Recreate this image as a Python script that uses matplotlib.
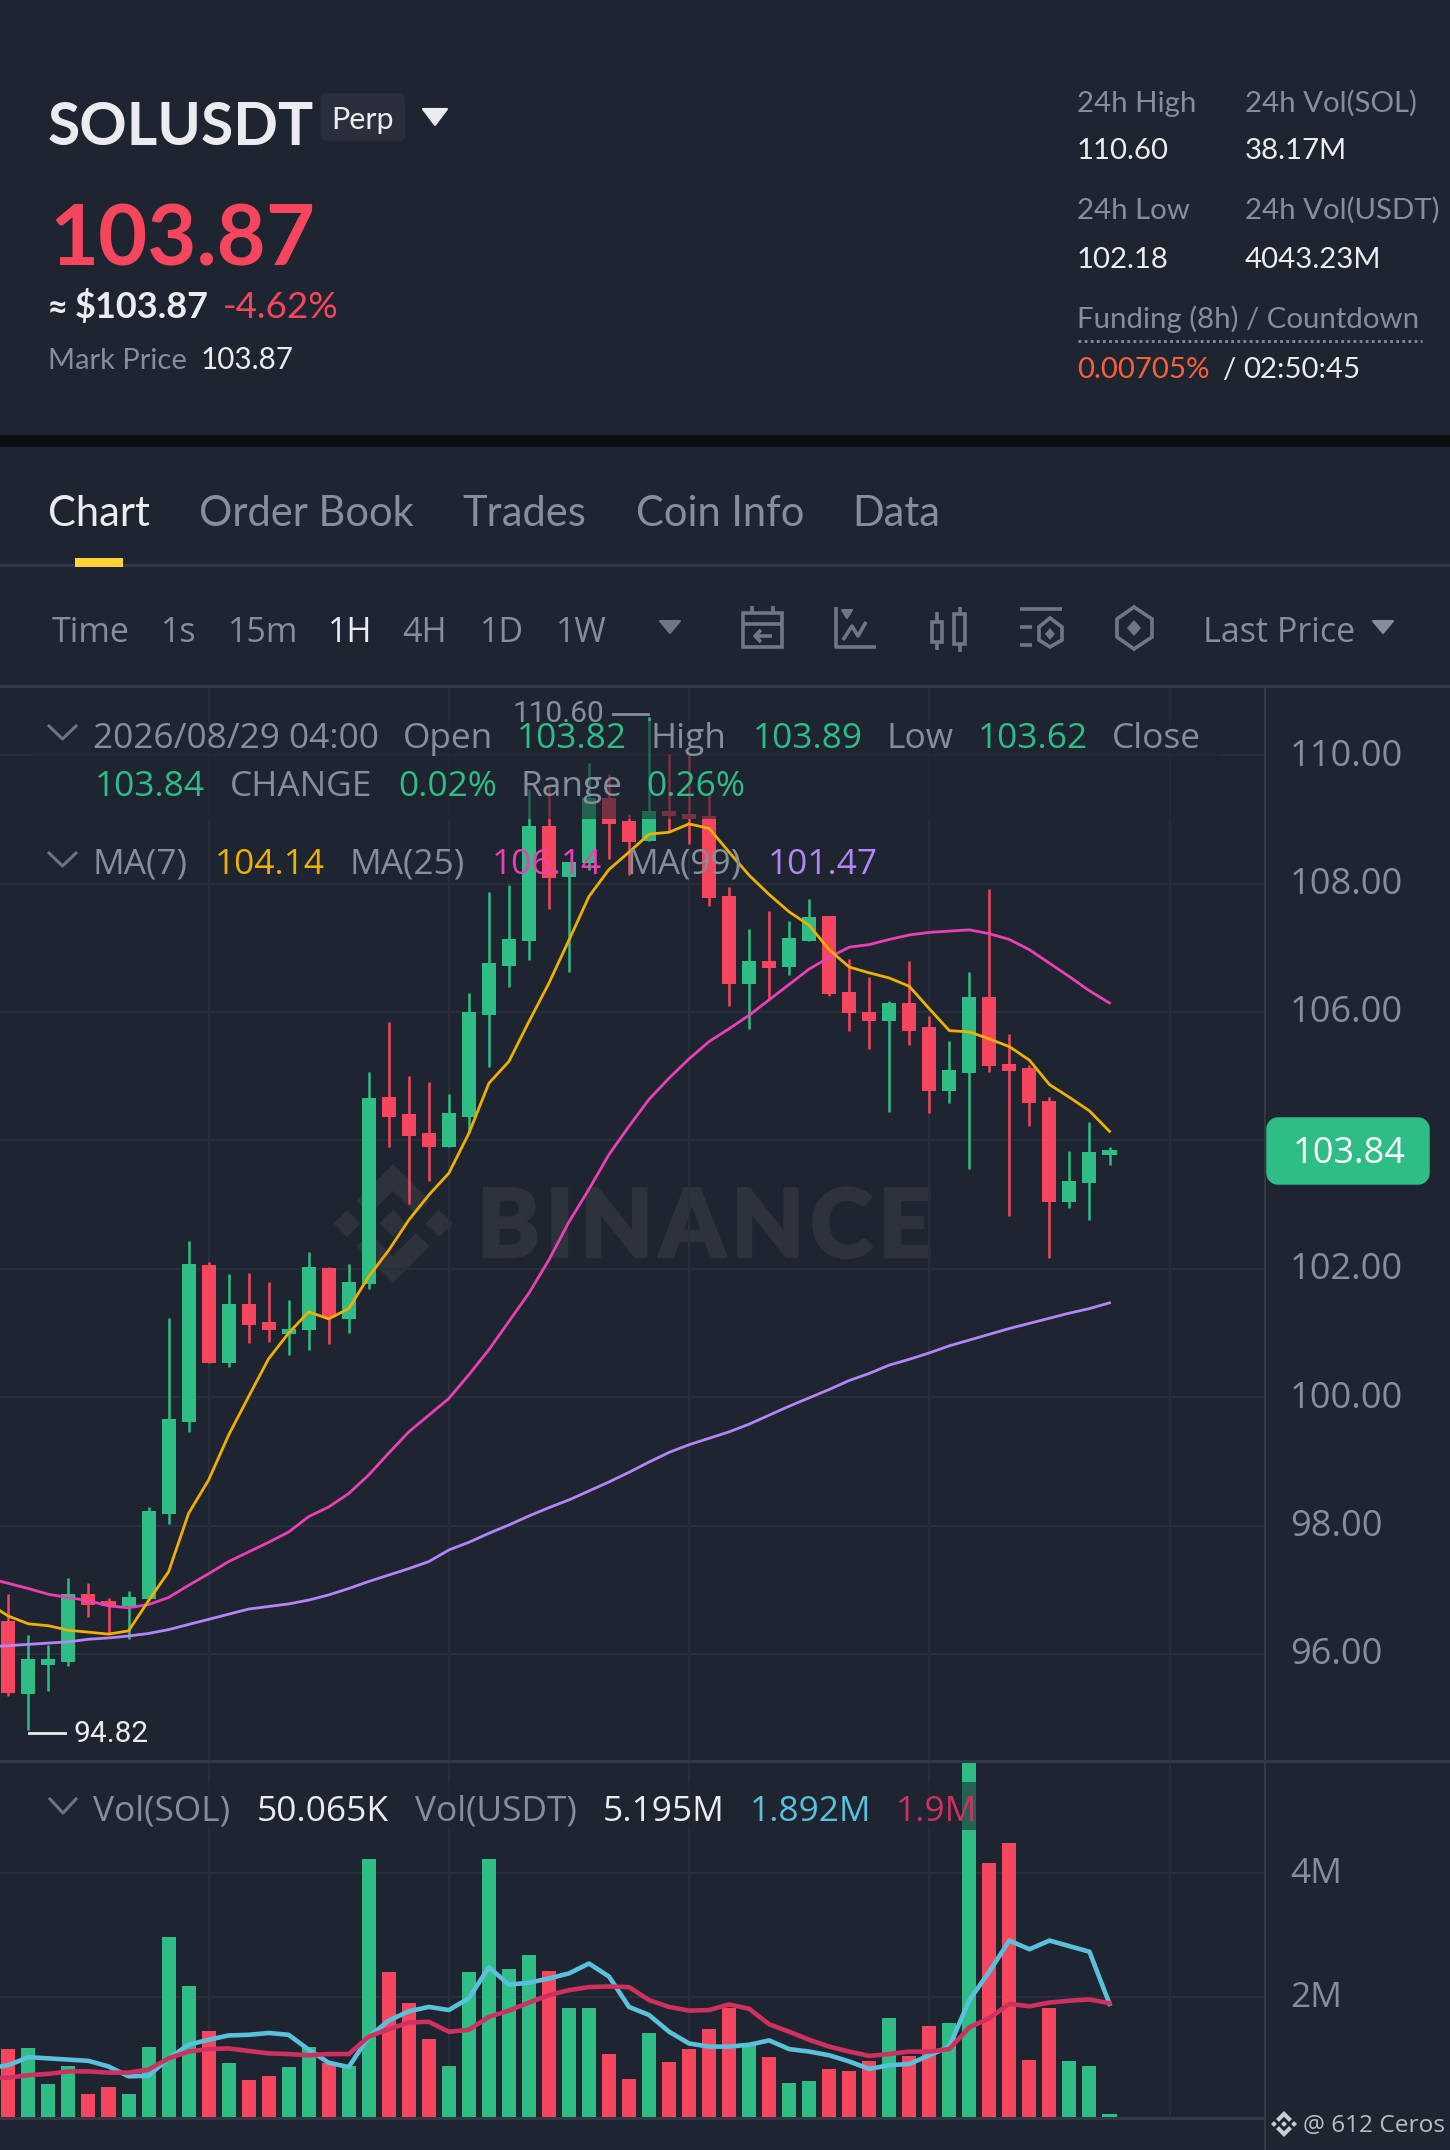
import numpy as np
import matplotlib
matplotlib.use("Agg")
import matplotlib.pyplot as plt
import matplotlib.patheffects as pe
from matplotlib.patches import Rectangle, FancyBboxPatch, Polygon
from matplotlib.ticker import FuncFormatter
from matplotlib.transforms import Affine2D

# ---------- data ----------
opens = [96.51,95.38,95.83,95.88,96.94,96.82,96.74,96.85,98.18,99.62,102.06,100.54,101.45,101.17,100.99,101.04,102.02,101.22,101.76,104.67,
         104.41,104.11,103.89,104.37,105.96,106.71,107.11,108.89,108.10,108.32,109.34,108.98,108.66,109.13,109.09,109.06,107.81,106.44,106.80,106.70,
         107.11,107.49,106.31,106.00,105.86,106.14,105.76,104.77,105.05,106.24,105.19,105.12,104.62,103.04,103.33,103.77]
highs = [96.93,96.30,96.14,97.19,97.11,96.88,96.98,98.29,101.24,102.43,102.11,101.92,101.94,101.80,101.51,102.26,102.03,102.07,105.07,105.84,
         105.01,104.91,104.72,106.29,107.87,107.98,109.48,109.50,108.34,109.88,109.71,109.08,110.60,110.02,110.03,109.38,107.94,107.29,107.57,107.42,
         107.76,107.49,106.83,106.55,106.17,106.79,105.93,105.55,106.63,107.92,105.65,105.18,104.67,103.84,104.28,103.89]
lows = [95.34,94.82,95.43,95.82,96.58,96.32,96.24,96.84,98.02,99.46,100.54,100.47,100.85,100.86,100.66,100.74,100.83,101.00,101.69,103.90,
        103.01,103.36,103.89,104.11,105.15,106.39,106.81,107.60,106.62,108.21,108.38,108.14,108.66,108.81,108.62,107.65,106.09,105.74,106.19,106.57,
        107.10,106.25,105.70,105.43,104.44,105.49,104.43,104.58,103.56,105.07,102.82,104.22,102.17,102.95,102.76,103.62]
closes = [95.39,95.92,95.92,96.94,96.77,96.74,96.89,98.22,99.66,102.07,100.54,101.45,101.12,101.04,101.07,102.03,101.25,101.79,104.66,104.37,
          104.07,103.89,104.42,106.00,106.76,107.14,108.89,108.08,108.34,109.34,108.93,108.65,109.13,109.05,109.01,107.77,106.44,106.80,106.69,107.16,
          107.48,106.28,105.98,105.86,106.14,105.71,104.77,105.10,106.23,105.16,105.08,104.58,103.04,103.37,103.82,103.85]
volumes = [1.16,1.17,0.60,0.89,0.44,0.55,0.43,1.19,2.97,2.18,1.45,0.94,0.66,0.72,0.87,1.19,0.93,0.88,4.22,2.40,
           1.91,1.33,0.88,2.41,4.23,2.45,2.68,2.42,1.82,1.82,1.08,0.67,1.42,0.95,1.16,1.48,1.82,1.24,1.04,0.62,
           0.65,0.84,0.80,0.96,1.66,1.05,1.54,1.58,5.83,4.16,4.49,0.98,1.82,0.97,0.88,0.12]
# moving averages start one candle off the left edge
ma7 = [96.79,96.59,96.47,96.44,96.37,96.34,96.31,96.36,96.83,97.28,98.19,98.71,99.41,100.01,100.60,101.00,101.33,101.22,101.38,101.88,
       102.29,102.76,103.15,103.49,104.11,104.89,105.23,105.85,106.45,107.12,107.80,108.22,108.49,108.77,108.80,108.93,108.86,108.49,108.13,107.83,
       107.56,107.35,106.97,106.70,106.61,106.53,106.40,106.05,105.71,105.69,105.58,105.46,105.25,104.87,104.67,104.46,104.14]
ma25 = [97.18,97.10,97.02,96.93,96.88,96.83,96.75,96.72,96.77,96.88,97.07,97.25,97.44,97.59,97.74,97.90,98.14,98.29,98.50,98.79,
        99.13,99.46,99.72,99.98,100.35,100.74,101.18,101.62,102.14,102.73,103.24,103.78,104.22,104.64,104.97,105.27,105.54,105.74,105.95,106.19,
        106.43,106.67,106.85,107.01,107.05,107.13,107.20,107.24,107.26,107.28,107.22,107.13,106.97,106.76,106.55,106.33,106.14]
ma99 = [96.11,96.13,96.15,96.17,96.19,96.23,96.25,96.28,96.32,96.38,96.46,96.54,96.62,96.70,96.74,96.78,96.84,96.92,97.02,97.13,
        97.23,97.33,97.44,97.62,97.74,97.88,98.01,98.15,98.28,98.40,98.54,98.68,98.83,98.99,99.14,99.26,99.36,99.46,99.58,99.72,
        99.86,99.99,100.12,100.26,100.37,100.50,100.59,100.69,100.80,100.89,100.98,101.07,101.15,101.23,101.31,101.38,101.47]
vol_ma_a = [0.85,0.90,1.03,1.01,0.99,0.97,0.88,0.72,0.73,1.01,1.23,1.31,1.38,1.39,1.42,1.39,1.15,0.94,0.87,1.36,
            1.62,1.77,1.84,1.79,1.98,2.48,2.20,2.23,2.30,2.38,2.54,2.33,1.84,1.71,1.44,1.25,1.20,1.20,1.23,1.30,
            1.16,1.12,1.06,0.96,0.84,0.90,0.92,1.06,1.20,1.95,2.41,2.91,2.77,2.91,2.82,2.73,1.89]
vol_ma_b = [0.69,0.70,0.74,0.76,0.80,0.80,0.78,0.78,0.83,1.01,1.12,1.16,1.17,1.13,1.09,1.08,1.06,1.08,1.08,1.36,
            1.48,1.59,1.60,1.44,1.47,1.68,1.78,1.91,2.03,2.11,2.16,2.17,2.16,1.95,1.84,1.78,1.79,1.88,1.81,1.56,
            1.44,1.31,1.20,1.12,1.05,1.08,1.12,1.12,1.16,1.51,1.66,1.89,1.85,1.91,1.94,1.96,1.90]
price_ticks = [96, 98, 100, 102, 104, 106, 108, 110]
vol_ticks = [2, 4]
grid_candles = [10, 22, 34, 46, 58]
tabs = ["Chart", "Order Book", "Trades", "Coin Info", "Data"]
intervals = ["Time", "1s", "15m", "1H", "4H", "1D", "1W"]

# ---------- style ----------
BG = "#1e2530"; GRID = "#292f3a"; DIV = "#323844"; GREY = "#848e9c"; WHITE = "#eaecef"
UP = "#2ebd85"; DOWN = "#f6465d"
C7 = "#f0b000"; C25 = "#eb40b5"; C99 = "#b385f8"; CA = "#5ac0dc"; CB = "#cf3060"
MARK = "#2e323d"
W, H = 1450, 2150
SANS = "Open Sans"; HEAD = "Lato"

fig = plt.figure(figsize=(W/100, H/100), dpi=100, facecolor=BG)

def axes_px(x0, y0, x1, y1, z):
    ax = fig.add_axes([x0/W, 1-y1/H, (x1-x0)/W, (y1-y0)/H], zorder=z)
    ax.patch.set_alpha(0)
    return ax

under = axes_px(0, 0, W, H, 0)
under.set_xlim(0, W); under.set_ylim(H, 0); under.axis("off")
over = axes_px(0, 0, W, H, 5)
over.set_xlim(0, W); over.set_ylim(H, 0); over.axis("off")

def T(x, y, s, size, color=GREY, family=SANS, weight="normal", ha="left", va="baseline", z=6):
    over.text(x, y, s, fontsize=size, color=color, family=family, fontweight=weight, ha=ha, va=va, zorder=z)

def tri(x0, x1, y0, y1, color):
    over.add_patch(Polygon([(x0, y0), (x1, y0), ((x0+x1)/2, y1)], closed=True, fc=color, ec=color, lw=1.5, joinstyle="round", zorder=6))

def chevron(x0, x1, y0, y1):
    over.plot([x0, (x0+x1)/2, x1], [y0, y1, y0], color="#6b7380", lw=2.2, zorder=6)

LOGO = [
    [(38.73,53.2),(63.3,28.64),(87.89,53.22),(102.19,38.92),(63.3,0),(24.42,38.9)],
    [(0,63.31),(14.3,49.01),(28.6,63.31),(14.3,77.61)],
    [(49,63.31),(63.31,49),(77.6,63.31),(63.31,77.6)],
    [(98,63.31),(112.3,49.01),(126.6,63.31),(112.3,77.61)],
    [(87.89,73.39),(63.3,97.97),(38.73,73.41),(24.41,87.71),(63.3,126.61),(102.21,87.7)],
]
def logo(ax, x0, y0, size, color, z):
    k = size/126.61
    for poly in LOGO:
        ax.add_patch(Polygon([(x0+px*k, y0+py*k) for px, py in poly], closed=True, fc=color, ec="none", zorder=z))

# ---------- panels / watermark ----------
under.add_patch(Rectangle((0, 435), W, 12, fc="#0b0e11", ec="none"))
logo(under, 333.5, 1164, 119, MARK, 1)
wm = under.text(477, 1257, "B\u200aI\u200aN\u200aA\u200aN\u200aC\u200aE", fontsize=68, color=MARK, family=[HEAD, "DejaVu Sans"], fontweight="black", va="baseline", ha="left", zorder=1)
wm.set_path_effects([pe.withStroke(linewidth=2, foreground=MARK)])

# ---------- price chart ----------
X0, DX = 8.4, 20.02
xl = (-X0/DX, (1265-X0)/DX)
o, h, l, c = map(np.array, (opens, highs, lows, closes))
xs = np.arange(len(o))
cols = [UP if b >= a else DOWN for a, b in zip(o, c)]
ma_x = np.arange(-1, len(ma7)-1)

ax = axes_px(0, 686, 1265, 1761, 2)
ax.set_xlim(*xl)
ax.set_ylim(96+(1654-1761)/64.2, 96+(1654-686)/64.2)
ax.vlines(xs, l, h, colors=cols, lw=1.8, zorder=3)
ax.bar(xs, np.abs(c-o), bottom=np.minimum(o, c), width=0.7, color=cols, zorder=3)
ax.plot(ma_x, ma99, color=C99, lw=2.0, zorder=4)
ax.plot(ma_x, ma25, color=C25, lw=2.0, zorder=4)
ax.plot(ma_x, ma7, color=C7, lw=2.0, zorder=4)

vx = axes_px(0, 1757, 1265, 2117, 2)
vx.set_xlim(*xl)
vx.set_ylim((2121-2117)/62, (2121-1757)/62)
vx.bar(xs, volumes, width=0.7, color=cols, zorder=3)
vx.plot(ma_x, vol_ma_a, color=CA, lw=3.3, zorder=4)
vx.plot(ma_x, vol_ma_b, color=CB, lw=3.3, zorder=4)

for a, ticks, fmt, fs in ((ax, price_ticks, lambda v, _: f"{v:.2f}", 26), (vx, vol_ticks, lambda v, _: f"{v:.0f}M", 25.5)):
    a.set_yticks(ticks)
    a.yaxis.tick_right()
    a.yaxis.set_major_formatter(FuncFormatter(fmt))
    a.set_xticks(grid_candles)
    a.tick_params(length=0, labelbottom=False, labelright=True, labelcolor=GREY, pad=18)
    a.grid(True, color=GRID, lw=1.5, zorder=0)
    a.set_axisbelow(True)
    for s in a.spines.values():
        s.set_visible(False)
    for tk in a.yaxis.get_major_ticks():
        tk.label2.set_fontsize(fs)
        tk.label2.set_family(SANS)
        tk.label2.set_transform(tk.label2.get_transform() + Affine2D().translate(0, 3))

# dividers
for y, x1, t in ((686, W, 3), (1761.5, W, 3), (2118, 1265, 3), (565, W, 3)):
    over.add_patch(Rectangle((0, y-t/2), x1, t, fc=DIV, ec="none", zorder=2))
over.add_patch(Rectangle((1264, 686), 2, H-686, fc=DIV, ec="none", zorder=2))

# translucent legend backings
over.add_patch(Rectangle((32, 721), 1190, 98, fc=BG, ec="none", alpha=0.6, zorder=3))
over.add_patch(Rectangle((32, 1782), 956, 48, fc=BG, ec="none", alpha=0.6, zorder=3))

# high / low markers
T(604, 722, "110.60", 21.5, color=GREY, family="Roboto", ha="right")
over.plot([613, 648], [714, 714], color=GREY, lw=2, zorder=6)
T(74, 1742, "94.82", 21.5, color=WHITE, family="Roboto")
over.plot([29, 65], [1733, 1733], color=WHITE, lw=2, zorder=6)

# price tag
over.add_patch(FancyBboxPatch((1276, 1127), 144, 48, boxstyle="round,pad=0,rounding_size=2", fc=UP, ec=UP, lw=14, zorder=6, joinstyle="round"))
T(1349, 1154, "103.84", 26, color="white", ha="center", va="center", z=7)

# legends
LS = 25.4
chevron(49, 76, 726, 739)
for x, s, col in ((93, "2026/08/29 04:00", GREY), (403, "Open", GREY), (517, "103.82", UP), (651, "High", GREY), (753, "103.89", UP), (887, "Low", GREY), (978, "103.62", UP), (1112, "Close", GREY)):
    T(x, 748, s, LS, col)
for x, s, col in ((95, "103.84", UP), (230, "CHANGE", GREY), (398, "0.02%", UP), (521, "Range", GREY), (646, "0.26%", UP)):
    T(x, 796, s, LS, col)
chevron(49, 76, 853, 866)
for x, s, col in ((93, "MA(7)", GREY), (215, "104.14", C7), (350, "MA(25)", GREY), (492, "106.14", C25), (627, "MA(99)", GREY), (768, "101.47", C99)):
    T(x, 873.5, s, LS, col)
chevron(50, 76, 1799, 1813)
for x, s, col in ((93, "Vol(SOL)", GREY), (257, "50.065K", WHITE), (415, "Vol(USDT)", GREY), (603, "5.195M", WHITE), (750, "1.892M", CA), (896, "1.9M", CB)):
    T(x, 1821, s, LS, col)
logo(over, 1271, 2111, 26, "#c9ced6", 6)
T(1303, 2132, "@ 612 Ceros", 17.6, color="#b7bdc6")

# ---------- header ----------
T(48, 145, "SOLUSDT", 42.3, WHITE, HEAD, "bold")
over.add_patch(FancyBboxPatch((325, 97), 76, 40, boxstyle="round,pad=0,rounding_size=2", fc="#2a2f3b", ec="#2a2f3b", lw=6, zorder=4))
T(331, 129, "Perp", 22, WHITE, HEAD)
tri(423, 447, 109, 125, WHITE)
T(49, 266, "103.87", 61, DOWN, HEAD, "bold")
T(49, 318, "≈", 22, WHITE, SANS, "bold")
T(75, 318, "$103.87", 26, WHITE, HEAD, "bold")
T(223, 318, "-4.62%", 26.5, DOWN, HEAD)
T(48, 369, "Mark Price", 21, GREY, HEAD)
T(201, 369, "103.87", 21.3, WHITE, HEAD)

for x, y, s, col in ((1077, 112, "24h High", GREY), (1245, 112, "24h Vol(SOL)", GREY), (1077, 159, "110.60", WHITE), (1245, 159, "38.17M", WHITE),
                     (1077, 219, "24h Low", GREY), (1245, 219, "24h Vol(USDT)", GREY), (1077, 268, "102.18", WHITE), (1245, 268, "4043.23M", WHITE),
                     (1077, 328, "Funding (8h) / Countdown", GREY), (1077, 378, "0.00705%", "#f8603c"), (1222, 378, "/", WHITE), (1243, 378, "02:50:45", WHITE)):
    T(x, y, s, 21.2, col, HEAD)
over.plot([1078, 1422], [341, 341], color=GREY, lw=2, ls=(0, (1, 1.2)), zorder=6)

# ---------- tabs ----------
for x, s, col in zip((48, 199, 462, 636, 852), tabs, (WHITE, GREY, GREY, GREY, GREY)):
    T(x, 526, s, 30, col, HEAD)
over.add_patch(Rectangle((75, 558), 48, 9, fc="#fcd535", ec="none", zorder=6))

# ---------- toolbar ----------
for x, s in zip((52, 161, 228, 328, 402, 480, 556), intervals):
    T(x, 642, s, 24.5, WHITE if s == "1H" else GREY)
tri(660, 680, 621, 633, "#6f7785")
T(1203, 642, "Last Price", 24.5, GREY)
tri(1373, 1393, 621, 633, "#848e9c")
IC = "#6f7785"; LW = 2.6
def L(xs_, ys_):
    over.plot(xs_, ys_, color=IC, lw=LW, zorder=6, solid_capstyle="butt")
# calendar
over.add_patch(Rectangle((743, 613), 39, 34, fc="none", ec=IC, lw=LW, zorder=6))
L([743, 782], [624, 624]); L([752, 752], [606, 613]); L([773, 773], [606, 613])
L([755, 772], [636, 636]); L([761, 755, 761], [630, 636, 642])
# line chart
L([836, 836, 876], [607, 647, 647]); L([843, 852, 858, 866], [640, 626, 636, 622]); tri(842, 852, 610, 618, IC)
# candles
over.add_patch(Rectangle((932, 622), 10, 20, fc="none", ec=IC, lw=LW, zorder=6))
over.add_patch(Rectangle((954, 614), 11, 30, fc="none", ec=IC, lw=LW, zorder=6))
L([937, 937], [612, 622]); L([937, 937], [642, 650]); L([960, 960], [607, 614]); L([960, 960], [644, 652])
# settings
L([1020, 1062], [609, 609]); L([1020, 1032], [627, 627]); L([1020, 1032], [645, 645])
over.add_patch(Polygon([(1050, 618), (1062, 627), (1062, 640), (1050, 647), (1039, 640), (1039, 627)], closed=True, fc="none", ec=IC, lw=LW, zorder=6))
over.add_patch(Polygon([(1050, 628), (1055, 634), (1050, 640), (1045, 634)], closed=True, fc=IC, ec="none", zorder=6))
# hexagon
over.add_patch(Polygon([(1134, 607), (1152, 619), (1152, 637), (1134, 649), (1117, 637), (1117, 619)], closed=True, fc="none", ec=IC, lw=LW, zorder=6))
over.add_patch(Polygon([(1134, 620), (1141, 628), (1134, 636), (1127, 628)], closed=True, fc=IC, ec="none", zorder=6))

fig.savefig("out.png", dpi=100, facecolor=BG)
